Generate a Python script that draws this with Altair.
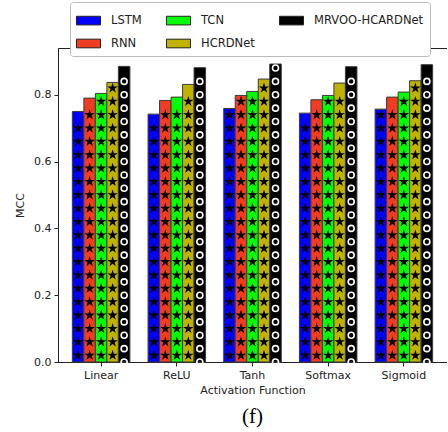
import altair as alt
import pandas as pd
import numpy as np

categories = ["Linear", "ReLU", "Tanh", "Softmax", "Sigmoid"]
models = ["LSTM", "RNN", "TCN", "HCRDNet", "MRVOO-HCARDNet"]
lstm = [0.750, 0.742, 0.759, 0.745, 0.757]
rnn = [0.790, 0.783, 0.798, 0.785, 0.793]
tcn = [0.804, 0.793, 0.810, 0.798, 0.808]
hcrdnet = [0.837, 0.831, 0.847, 0.835, 0.842]
mrvoo = [0.885, 0.881, 0.892, 0.884, 0.890]
colors = ["#0000ff", "#f03c22", "#00ff00", "#bfb300", "#000000"]
y_ticks = [0.0, 0.2, 0.4, 0.6, 0.8]

series = [lstm, rnn, tcn, hcrdnet, mrvoo]
rows = []
for m, vals in zip(models, series):
    for c, v in zip(categories, vals):
        rows.append({"Activation": c, "Model": m, "MCC": v})
df = pd.DataFrame(rows)

# hatch decoration derived from bar values
star_rows, circ_rows, edge_rows = [], [], []
for r in rows:
    if r["Model"] == "MRVOO-HCARDNet":
        for yv in np.arange(0.04, r["MCC"] - 0.02, 0.08):
            circ_rows.append({"Activation": r["Activation"], "Model": r["Model"], "y": yv})
        for yv in np.arange(0.0, r["MCC"] - 0.01, 0.08):
            edge_rows.append({"Activation": r["Activation"], "Model": r["Model"], "y": yv})
    else:
        for yv in np.arange(0.02, r["MCC"] - 0.015, 0.04):
            star_rows.append({"Activation": r["Activation"], "Model": r["Model"], "y": yv})
stars = pd.DataFrame(star_rows)
circs = pd.DataFrame(circ_rows)
edges = pd.DataFrame(edge_rows)

STAR = "M0,-1L0.223,-0.307L0.951,-0.309L0.361,0.117L0.588,0.809L0,0.38L-0.588,0.809L-0.361,0.117L-0.951,-0.309L-0.223,-0.307Z"
RECT = "M-1,-0.36L1,-0.36L1,0.36L-1,0.36Z"

xscale = alt.Scale(domain=categories, paddingInner=0.24, paddingOuter=0.19)
xo_scale = alt.Scale(domain=models, paddingInner=0, paddingOuter=0)
yscale = alt.Scale(domain=[0, 0.94], nice=False)

x_enc = alt.X("Activation:N", scale=xscale, sort=categories,
              axis=alt.Axis(title="Activation Function", labelAngle=0, tickSize=4,
                            labelPadding=3, titlePadding=4))
xo_enc = alt.XOffset("Model:N", scale=xo_scale, sort=models)

bars = alt.Chart(df).mark_bar(stroke="#3a3a3a", strokeWidth=1).encode(
    x=x_enc,
    xOffset=xo_enc,
    y=alt.Y("MCC:Q", scale=yscale,
            axis=alt.Axis(title="MCC", values=y_ticks, format=".1f", grid=False,
                          tickSize=4, labelPadding=3, titlePadding=8)),
    color=alt.Color("Model:N", scale=alt.Scale(domain=models, range=colors),
                    legend=alt.Legend(title=None, orient="none", legendX=12, legendY=-46,
                                      columns=3, symbolType=RECT, symbolSize=576,
                                      symbolStrokeColor="#222", symbolStrokeWidth=1,
                                      columnPadding=22, rowPadding=4, labelOffset=10,
                                      padding=6, fillColor="white", strokeColor="#bbbbbb",
                                      cornerRadius=3, labelFontSize=11.5)),
)

def deco(data, **kw):
    return alt.Chart(data).mark_point(opacity=1, **kw).encode(
        x=alt.X("Activation:N", scale=xscale, sort=categories),
        xOffset=alt.XOffset("Model:N", scale=xo_scale, sort=models),
        y=alt.Y("y:Q", scale=yscale),
    )

star_layer = deco(stars, shape=STAR, filled=True, color="black", size=120)
circ_layer = deco(circs, shape="circle", filled=False, color="white", size=36, strokeWidth=1.6)
edge_layer = deco(edges, shape="circle", filled=False, color="white", size=36, strokeWidth=1.6, dx=7)

chart = alt.layer(bars, star_layer, circ_layer, edge_layer).properties(
    width=389, height=314,
    autosize=alt.AutoSizeParams(type="none"),
    padding={"left": 58, "top": 48, "right": 0, "bottom": 70},
    title=alt.TitleParams("(f)", orient="bottom", font="Liberation Serif",
                          fontSize=21, fontWeight="normal", offset=11, color="black"),
).configure(
    font="DejaVu Sans",
).configure_view(
    stroke="#222", strokeWidth=1,
).configure_axis(
    labelFont="DejaVu Sans", titleFont="DejaVu Sans", labelFontSize=11, titleFontSize=11,
    titleFontWeight="normal", labelColor="#222", titleColor="#222",
    domainColor="#222", tickColor="#222",
).configure_legend(
    labelFont="DejaVu Sans", labelColor="#222",
)

chart.save("out.html", embed_options={"renderer": "svg", "actions": False})
